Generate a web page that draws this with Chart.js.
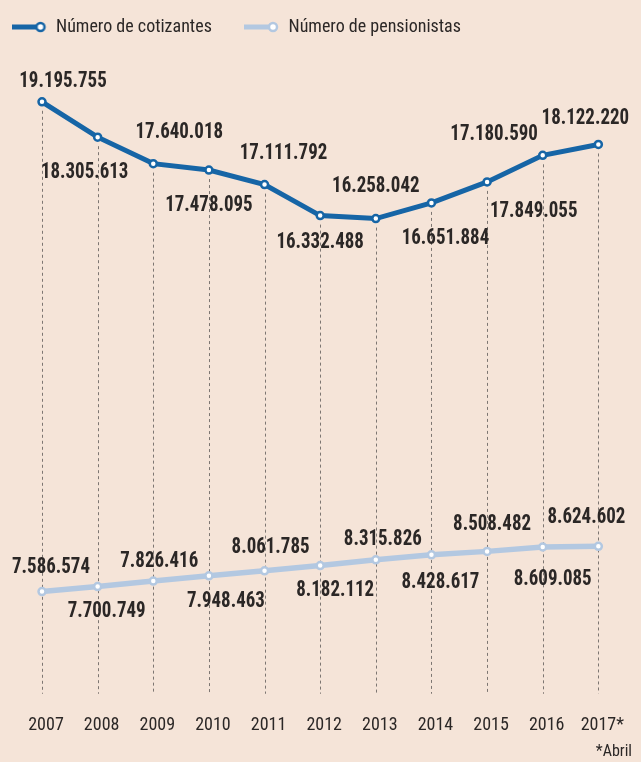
<!DOCTYPE html>
<html>
<head>
<meta charset="utf-8">
<script src="https://cdn.jsdelivr.net/npm/chart.js@4.4.1/dist/chart.umd.min.js"></script>
<style>
  html, body { margin: 0; padding: 0; background: #f5e4d8; }
  #wrap { width: 641px; height: 762px; position: relative; }
  canvas { display: block; }
</style>
</head>
<body>
<div id="wrap"><canvas id="c" width="641" height="762"></canvas></div>
<script>
// ---- data ----
const years = ['2007', '2008', '2009', '2010', '2011', '2012', '2013', '2014', '2015', '2016', '2017*'];
const cotizantes = [19195755, 18305613, 17640018, 17478095, 17111792, 16332488, 16258042, 16651884, 17180590, 17849055, 18122220];
const pensionistas = [7586574, 7700749, 7826416, 7948463, 8061785, 8182112, 8315826, 8428617, 8508482, 8609085, 8624602];
const seriesNames = ['Número de cotizantes', 'Número de pensionistas'];
const footnote = '*Abril';

// ---- styling / layout ----
const FONT = "'Liberation Sans Narrow', 'Roboto Condensed', 'DejaVu Sans Condensed', 'Arial Narrow', sans-serif";
const TEXT = '#2b2726';
const BLUE = '#1665a6';
const LIGHT = '#b3c8e1';
// label placement relative to each point [dx, dy]
const labelOffsets = [
  [[21,-20],[-13,35],[26,-31],[0,35],[19,-31],[0,27],[0,-32],[14,36],[7,-47],[-9,56],[-13,-26]],
  [[9,-24],[9,25],[6,-20],[17,26],[6,-23],[15,25],[7,-20],[9,28],[5,-27],[10,33],[-12,-29]]
];

function fmt(v) { return String(v).replace(/\B(?=(\d{3})+(?!\d))/g, '.'); }

function legendSwatch(color) {
  const c = document.createElement('canvas');
  c.width = 36; c.height = 14;
  const g = c.getContext('2d');
  g.strokeStyle = color; g.lineWidth = 5;
  g.beginPath(); g.moveTo(0, 7); g.lineTo(29, 7); g.stroke();
  g.beginPath(); g.arc(29, 7, 4, 0, Math.PI * 2);
  g.fillStyle = '#fff'; g.fill();
  g.lineWidth = 2.5; g.stroke();
  return c;
}
const swatches = [legendSwatch(BLUE), legendSwatch(LIGHT)];

const dropLines = {
  id: 'dropLines',
  beforeDatasetsDraw(chart) {
    const { ctx, chartArea } = chart;
    const meta = chart.getDatasetMeta(0);
    ctx.save();
    ctx.strokeStyle = '#7d7672';
    ctx.lineWidth = 1;
    ctx.setLineDash([3, 3]);
    meta.data.forEach(pt => {
      const x = Math.round(pt.x) + 0.5;
      ctx.beginPath();
      ctx.moveTo(x, pt.y + 9);
      ctx.lineTo(x, chartArea.bottom);
      ctx.stroke();
    });
    ctx.restore();
  }
};

const valueLabels = {
  id: 'valueLabels',
  afterDatasetsDraw(chart) {
    const { ctx } = chart;
    chart.data.datasets.forEach((ds, di) => {
      const meta = chart.getDatasetMeta(di);
      meta.data.forEach((pt, i) => {
        const [dx, dy] = labelOffsets[di][i];
        ctx.save();
        ctx.font = 'bold 22px ' + FONT;
        ctx.fillStyle = TEXT;
        ctx.textAlign = 'center';
        ctx.textBaseline = 'middle';
        ctx.translate(pt.x + dx, pt.y + dy);
        ctx.scale(0.86, 1);
        ctx.fillText(fmt(ds.data[i]), 0, 0);
        ctx.restore();
      });
    });
  }
};

new Chart(document.getElementById('c'), {
  type: 'line',
  data: {
    labels: years,
    datasets: [
      {
        label: seriesNames[0], data: cotizantes, yAxisID: 'y',
        borderColor: BLUE, borderWidth: 5, tension: 0,
        pointRadius: 3.5, pointBorderWidth: 2.5, pointBackgroundColor: '#fff', pointBorderColor: BLUE,
        clip: false
      },
      {
        label: seriesNames[1], data: pensionistas, yAxisID: 'y2',
        borderColor: LIGHT, borderWidth: 5.5, tension: 0,
        pointRadius: 3.5, pointBorderWidth: 2.5, pointBackgroundColor: '#fff', pointBorderColor: LIGHT,
        clip: false
      }
    ]
  },
  options: {
    responsive: false,
    animation: false,
    devicePixelRatio: 1,
    layout: { padding: { left: 0, right: 9, top: 6, bottom: 0 } },
    plugins: {
      tooltip: { enabled: false },
      legend: {
        position: 'top', align: 'start',
        labels: {
          usePointStyle: true, pointStyleWidth: 35, padding: 12,
          font: { family: FONT, size: 18 }, color: TEXT,
          generateLabels: (chart) => chart.data.datasets.map((ds, i) => ({
            text: ds.label + (i === 0 ? '\u00a0\u00a0\u00a0\u00a0\u00a0' : ''),
            pointStyle: swatches[i],
            fillStyle: 'transparent', strokeStyle: 'transparent', lineWidth: 0,
            hidden: false, datasetIndex: i, fontColor: TEXT
          }))
        }
      },
      subtitle: {
        display: true, text: footnote, position: 'bottom', align: 'end',
        font: { family: FONT, size: 16 }, color: TEXT,
        padding: { top: 6, bottom: 0 }
      }
    },
    scales: {
      x: {
        offset: false,
        grid: { display: false, drawTicks: false },
        border: { display: false },
        ticks: { font: { family: FONT, size: 18 }, color: TEXT, padding: 21, labelOffset: 4, maxRotation: 0, autoSkip: false },
        afterFit(s) { s.height = 43; }
      },
      y: {
        position: 'left', min: 4303000, max: 20599000,
        grid: { display: false, drawTicks: false }, border: { display: false },
        ticks: { display: false },
        afterFit(s) { s.width = 42; }
      },
      y2: {
        position: 'right', min: 5239600, max: 20108000,
        grid: { display: false, drawTicks: false }, border: { display: false },
        ticks: { display: false },
        afterFit(s) { s.width = 24; }
      }
    }
  },
  plugins: [dropLines, valueLabels]
});
</script>
</body>
</html>
